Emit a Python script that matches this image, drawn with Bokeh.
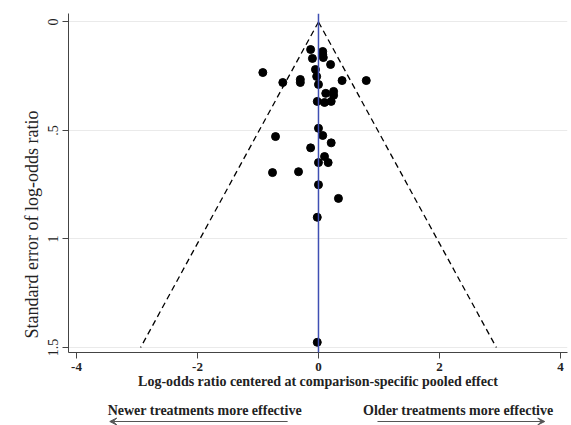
from bokeh.plotting import figure
from bokeh.layouts import column
from bokeh.models import Range1d, FixedTicker, Span, Label, Arrow, VeeHead, ColumnDataSource, Title
from bokeh.embed import file_html
from bokeh.resources import INLINE

# Log-odds ratio centered at comparison-specific pooled effect
effect = [-0.13, 0.07, 0.07, 0.08, -0.10, 0.20, -0.92, -0.05, -0.03, -0.59,
          -0.30, -0.30, 0.00, 0.39, 0.79, 0.25, 0.12, 0.25, -0.02, 0.10,
          0.21, 0.00, 0.07, -0.71, 0.21, -0.13, 0.10, 0.00, 0.16, -0.76,
          -0.33, 0.00, 0.33, -0.02, -0.02]
# Standard error of log-odds ratio
se = [0.127, 0.136, 0.150, 0.164, 0.168, 0.196, 0.233, 0.219, 0.251, 0.279,
      0.265, 0.279, 0.288, 0.270, 0.270, 0.320, 0.329, 0.338, 0.366, 0.371,
      0.366, 0.490, 0.523, 0.528, 0.557, 0.580, 0.620, 0.648, 0.648, 0.694,
      0.690, 0.750, 0.813, 0.900, 1.476]

x_ticks = [-4, -2, 0, 2, 4]
x_tick_labels = ["-4", "-2", "0", "2", "4"]
y_ticks = [0, 0.5, 1, 1.5]
y_tick_labels = ["0", ".5", "1", "1.5"]
se_max = 1.5
z = 1.96

FONT = "Liberation Serif"

p = figure(width=571, height=395, output_backend="svg", toolbar_location=None,
           x_range=Range1d(-4.132, 4.116), y_range=Range1d(1.523, -0.039),
           min_border_left=68, min_border_right=4, min_border_top=13,
           min_border_bottom=43)
p.outline_line_color = None
p.background_fill_color = "white"

# grid
p.xgrid.visible = False
p.ygrid.ticker = FixedTicker(ticks=y_ticks)
p.ygrid.grid_line_color = "#eaeaea"
p.ygrid.grid_line_width = 1

# funnel
p.line([0, -z * se_max], [0, se_max], line_color="black", line_width=1.3, line_dash="6 4")
p.line([0, z * se_max], [0, se_max], line_color="black", line_width=1.3, line_dash="6 4")

p.add_layout(Span(location=0, dimension="height", line_color="#3f4fb3", line_width=1.5))

src = ColumnDataSource(dict(x=effect, y=se))
p.scatter("x", "y", source=src, size=8, fill_color="black", line_color="black")

# axes
for ax in (p.xaxis[0], p.yaxis[0]):
    ax.axis_line_color = "#444444"
    ax.major_tick_line_color = "#444444"
    ax.major_tick_out = 6
    ax.major_tick_in = 0
    ax.minor_tick_line_color = None
    ax.major_label_text_font = FONT
    ax.major_label_text_font_size = "14px"
    ax.major_label_text_color = "#222222"
    ax.major_label_standoff = 4
    ax.axis_label_text_font = FONT
    ax.axis_label_text_font_style = "normal"
    ax.axis_label_text_color = "#222222"

p.xaxis.ticker = FixedTicker(ticks=x_ticks)
p.xaxis.major_label_overrides = {t: l for t, l in zip(x_ticks, x_tick_labels)}
p.xaxis.axis_label = "Log-odds ratio centered at comparison-specific pooled effect"
p.xaxis.axis_label_text_font_size = "14px"
p.xaxis.axis_label_text_font_style = "bold"
p.xaxis.axis_label_standoff = 0
p.xaxis.major_label_text_font_style = "bold"
p.xaxis.major_label_text_font_size = "13px"

p.yaxis.ticker = FixedTicker(ticks=y_ticks)
p.yaxis.major_label_overrides = {t: l for t, l in zip(y_ticks, y_tick_labels)}
p.yaxis.major_label_orientation = "vertical"

ytitle = Title(text="Standard error of log-odds ratio", align="left", offset=14,
               text_font=FONT, text_font_size="18px", text_font_style="normal",
               text_color="#222222", standoff=7)
p.add_layout(ytitle, "left")

# bottom annotation strip
p2 = figure(width=571, height=30, output_backend="svg", toolbar_location=None,
            x_range=p.x_range, y_range=Range1d(30, 0),
            min_border_left=68, min_border_right=4, min_border_top=0,
            min_border_bottom=0, x_axis_type=None, y_axis_type=None)
p2.outline_line_color = None
p2.xgrid.visible = False
p2.ygrid.visible = False

notes = ["Newer treatments more effective", "Older treatments more effective"]
note_x = [-1.88, 2.31]
arrow_from = [-0.51, 0.975]
arrow_to = [-3.45, 3.74]
for t, xc in zip(notes, note_x):
    p2.add_layout(Label(x=xc, y=15, text=t, text_align="center", text_baseline="middle",
                        text_font=FONT, text_font_size="14px", text_font_style="bold",
                        text_color="#222222"))
for a, b in zip(arrow_from, arrow_to):
    p2.add_layout(Arrow(x_start=a, y_start=26, x_end=b, y_end=26,
                        line_color="#555555", line_width=1,
                        end=VeeHead(size=7, line_color="#555555", line_width=1, fill_color="#555555")))

layout = column(p, p2, spacing=0)
open("out.html", "w").write(file_html(layout, INLINE))
